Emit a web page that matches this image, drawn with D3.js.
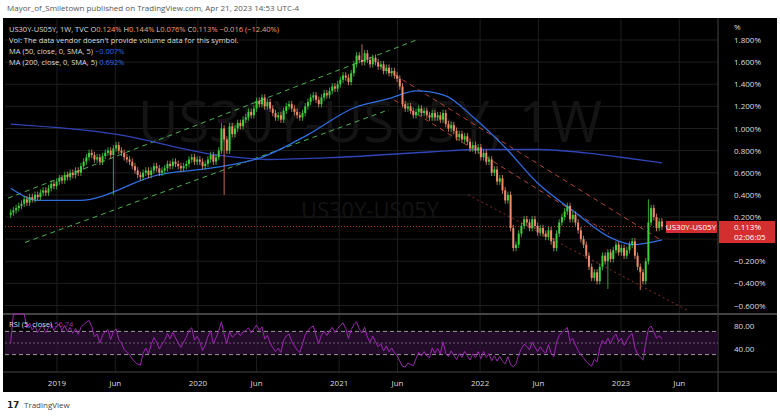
<!DOCTYPE html><html><head><meta charset="utf-8">
<script src="https://cdn.jsdelivr.net/npm/d3@7"></script>
<style>body{margin:0;background:#fff;font-family:"Open Sans",sans-serif}</style></head><body>
<svg id="c" width="780" height="417"></svg>
<script>
const closes=[0.24,0.26,0.28,0.30, 0.32,0.36,0.33,0.38,0.36, 0.40,0.38,0.42,0.44, 0.42,0.46,0.50,0.48,0.52,
0.55,0.53,0.58,0.56, 0.60,0.58,0.62,0.60, 0.66,0.70,0.74,0.78, 0.76,0.72,0.74,0.70,0.75, 0.78,0.80,0.76,0.82, 0.85,0.80,0.78,0.74, 0.72,0.70,0.66,0.62,0.58, 0.56,0.60,0.62,0.58, 0.62,0.66,0.64,0.60,0.62, 0.64,0.68,0.66,0.70, 0.68,0.66,0.64,0.66, 0.68,0.72,0.74,0.70,0.72,
0.70,0.66,0.68,0.72, 0.76,0.70,0.74,0.80, 1.00,0.90,0.80,1.02,0.95, 1.00,1.05,1.02,1.08, 1.10,1.15,1.12,1.18, 1.25,1.22,1.28,1.20,1.24, 1.18,1.14,1.10,1.12, 1.08,1.16,1.20,1.22,1.18, 1.15,1.12,1.10,1.14, 1.20,1.24,1.28,1.30, 1.26,1.22,1.28,1.32,1.30, 1.34,1.38,1.36,1.40,
1.44,1.48,1.46,1.42, 1.50,1.58,1.66,1.62, 1.60,1.68,1.62,1.58,1.64, 1.60,1.56,1.58,1.52, 1.55,1.50,1.52,1.48,1.45, 1.38,1.22,1.18,1.20, 1.16,1.12,1.15,1.18, 1.14,1.16,1.12,1.10,1.14, 1.10,1.12,1.08,1.14, 1.04,1.00,1.03,0.98, 0.92,0.95,0.90,0.93,0.88, 0.82,0.85,0.80,0.83,
0.74,0.78,0.70,0.72,0.60, 0.63,0.52,0.55,0.44, 0.35,0.40,0.10,-0.08, -0.05,0.05,0.12,0.18, 0.15,0.10,0.18,0.12,0.06, 0.10,0.05,0.02,0.08, -0.02,-0.08,0.05,0.15, 0.20,0.25,0.30,0.18,0.22, 0.15,0.08,0.00,-0.05, -0.15,-0.25,-0.35,-0.30,-0.38, -0.25,-0.15,-0.20,-0.12, -0.18,-0.10,-0.05,-0.12,
-0.08,-0.15,-0.10,-0.05,-0.02, -0.15,-0.25,-0.30,-0.38, -0.20,0.15,0.28,0.20, 0.10,0.16,0.113];
const spikes=[{i:38,low:0.40},{i:79,low:0.40},{i:78,high:1.05},{i:130,high:1.76},{i:221,low:-0.45},{i:233,low:-0.46},{i:236,high:0.36}];
const ma200=[["2018-09-03",1.04],["2019-06-01",0.95],["2020-02-20",0.76],["2020-07-01",0.72],["2021-01-01",0.74],["2021-09-01",0.79],["2022-01-01",0.81],["2022-06-01",0.81],["2022-10-01",0.78],["2023-01-01",0.74],["2023-04-17",0.69]];
const ma50=[["2018-09-03",0.46],["2018-11-15",0.35],["2019-03-01",0.35],["2019-09-20",0.58],["2020-02-20",0.65],["2020-06-15",0.74],["2020-10-10",0.94],["2021-02-10",1.19],["2021-05-10",1.27],["2021-07-20",1.34],["2021-10-01",1.30],["2021-12-15",1.10],["2022-03-01",0.85],["2022-06-01",0.5],["2022-09-01",0.25],["2022-12-01",0.02],["2023-02-01",-0.05],["2023-04-17",-0.007]];
const trendLines=[
 {a:["2018-08-27",0.37],b:["2021-07-20",1.80],c:"#4caf50",d:"5,4"},
 {a:["2018-10-10",-0.03],b:["2021-05-10",1.17],c:"#4caf50",d:"5,4"},
 {a:["2021-04-15",1.57],b:["2023-04-15",-0.01],c:"#b5453a",d:"5,4"},
 {a:["2021-05-23",1.26],b:["2022-12-01",0.05],c:"#b5453a",d:"5,4"},
 {a:["2021-12-01",0.40],b:["2023-06-20",-0.64],c:"#8a2f2a",d:"2,3"}];
const yTicks=[1.8,1.6,1.4,1.2,1.0,0.8,0.6,0.4,0.2,-0.2,-0.4,-0.6];
const xTicks=[["2019-01-01","2019"],["2019-06-01","Jun"],["2020-01-01","2020"],["2020-06-01","Jun"],["2021-01-01","2021"],["2021-06-01","Jun"],["2022-01-01","2022"],["2022-06-01","Jun"],["2023-01-01","2023"],["2023-06-01","Jun"]];
const rsiTicks=[80,40];

const P=d3.timeParse("%Y-%m-%d");
const end=P("2023-04-17");
const data=closes.map((c,i)=>{const o=i?closes[i-1]:c-0.02;const s=spikes.filter(k=>k.i===i);
 let h=Math.max(o,c)+0.03,l=Math.min(o,c)-0.03;s.forEach(k=>{if(k.high)h=k.high;if(k.low)l=k.low;});
 return {d:d3.timeWeek.offset(end,i-(closes.length-1)),o,c,h,l};});
const svg=d3.select("#c");
const L=5,R=718,T=19,B=312;
svg.append("rect").attr("x",3).attr("y",18).attr("width",774).attr("height",374).attr("fill","#000");
const x=d3.scaleTime().domain([P("2019-01-01"),P("2023-01-01")]).range([57,621]);
const y=d3.scaleLinear().domain([0.2,1.8]).range([217,40]);
const yr=d3.scaleLinear().domain([0,100]).range([372,314]);
const g=svg.append("g");
xTicks.forEach(t=>{g.append("line").attr("x1",x(P(t[0]))).attr("x2",x(P(t[0]))).attr("y1",T).attr("y2",372).attr("stroke","#1e1e1e");});
yTicks.concat([0]).forEach(v=>g.append("line").attr("x1",L).attr("x2",R).attr("y1",y(v)).attr("y2",y(v)).attr("stroke","#1e1e1e"));
g.append("text").attr("x",370).attr("y",142).attr("text-anchor","middle").attr("font-size",56).attr("fill","#141414").text("US30Y-US05Y, 1W");
g.append("text").attr("x",370).attr("y",218).attr("text-anchor","middle").attr("font-size",22).attr("fill","#141414").text("US30Y-US05Y");
g.append("line").attr("x1",3).attr("x2",777).attr("y1",314).attr("y2",314).attr("stroke","#444").attr("stroke-width",2);
g.append("line").attr("x1",3).attr("x2",777).attr("y1",372).attr("y2",372).attr("stroke","#444");
g.append("line").attr("x1",R).attr("x2",R).attr("y1",18).attr("y2",392).attr("stroke","#444");
g.append("line").attr("x1",L).attr("x2",R).attr("y1",y(0.113)).attr("y2",y(0.113)).attr("stroke","#c0392b").attr("stroke-dasharray","1,2");
trendLines.forEach(t=>g.append("line").attr("x1",x(P(t.a[0]))).attr("y1",y(t.a[1])).attr("x2",x(P(t.b[0]))).attr("y2",y(t.b[1])).attr("stroke",t.c).attr("stroke-dasharray",t.d).attr("stroke-width",1));
const ln=d3.line().curve(d3.curveMonotoneX).x(d=>x(P(d[0]))).y(d=>y(d[1]));
g.append("path").attr("d",ln(ma200)).attr("fill","none").attr("stroke","#2f44b8").attr("stroke-width",1.3);
g.append("path").attr("d",ln(ma50)).attr("fill","none").attr("stroke","#2f6ee0").attr("stroke-width",1.3);
const cg=g.append("g");
data.forEach(d=>{const cx=x(d.d),col=d.c>=d.o?"#3ecf3e":"#f08a6c";
 cg.append("line").attr("x1",cx).attr("x2",cx).attr("y1",y(d.h)).attr("y2",y(d.l)).attr("stroke",col).attr("stroke-width",0.8);
 cg.append("rect").attr("x",cx-1).attr("width",2).attr("y",y(Math.max(d.o,d.c))).attr("height",Math.max(1,Math.abs(y(d.o)-y(d.c)))).attr("fill",col);});
let ag=0,al=0;const rsi=[];
data.forEach((d,i)=>{if(!i){rsi.push(50);return;}const ch=d.c-data[i-1].c;const gn=Math.max(ch,0),ls=Math.max(-ch,0);
 if(i<=5){ag+=gn/5;al+=ls/5;}else{ag=(ag*4+gn)/5;al=(al*4+ls)/5;}rsi.push(al===0?100:100-100/(1+ag/al));});
g.append("rect").attr("x",L).attr("width",R-L).attr("y",yr(70)).attr("height",yr(30)-yr(70)).attr("fill","#2a0f33").attr("opacity",0.8);
[70,50,30].forEach(v=>g.append("line").attr("x1",L).attr("x2",R).attr("y1",yr(v)).attr("y2",yr(v)).attr("stroke","#aaa").attr("stroke-dasharray",v===50?"2,2":"4,3").attr("opacity",v===50?0.5:0.9));
g.append("path").attr("d",d3.line().x((d,i)=>x(data[i].d)).y(d=>yr(d))(rsi)).attr("fill","none").attr("stroke","#9c27b0").attr("stroke-width",1);
const ax=svg.append("g").attr("font-size",8).attr("fill","#ddd");
ax.append("text").attr("x",734).attr("y",30).text("%");
yTicks.forEach(v=>ax.append("text").attr("x",734).attr("y",y(v)+3).text((v<0?"−":"")+Math.abs(v).toFixed(3)+"%"));
rsiTicks.forEach(v=>ax.append("text").attr("x",734).attr("y",yr(v)+3).text(v.toFixed(2)));
xTicks.forEach(t=>ax.append("text").attr("x",x(P(t[0]))).attr("y",386).attr("text-anchor","middle").text(t[1]));
svg.append("rect").attr("x",666).attr("y",221).attr("width",51).attr("height",12).attr("fill","#d32f2f");
svg.append("text").attr("x",691).attr("y",230).attr("text-anchor","middle").attr("font-size",8).attr("fill","#fff").text("US30Y-US05Y");
svg.append("rect").attr("x",719).attr("y",221).attr("width",56).attr("height",22).attr("fill","#d32f2f");
svg.append("text").attr("x",734).attr("y",230).attr("font-size",8).attr("fill","#fff").text("0.113%");
svg.append("text").attr("x",734).attr("y",240).attr("font-size",8).attr("fill","#fff").text("02:06:05");
const lg=svg.append("g").attr("font-size",7.5).attr("fill","#ddd");
const t1=lg.append("text").attr("x",9).attr("y",32);
t1.append("tspan").text("US30Y-US05Y, 1W, TVC  ");
[["O","0.124%"],["H","0.144%"],["L","0.076%"],["C","0.113%"]].forEach(p=>{t1.append("tspan").text(p[0]);t1.append("tspan").attr("fill","#f0a070").text(p[1]+"  ");});
t1.append("tspan").attr("fill","#f0a070").text("−0.016 (−12.40%)");
lg.append("text").attr("x",9).attr("y",43).text("Vol: The data vendor doesn't provide volume data for this symbol.");
const t3=lg.append("text").attr("x",9).attr("y",54);t3.append("tspan").text("MA (50, close, 0, SMA, 5)  ");t3.append("tspan").attr("fill","#2f6ee0").text("−0.007%");
const t4=lg.append("text").attr("x",9).attr("y",65);t4.append("tspan").text("MA (200, close, 0, SMA, 5)  ");t4.append("tspan").attr("fill","#2f6ee0").text("0.692%");
const t5=lg.append("text").attr("x",9).attr("y",327);t5.append("tspan").text("RSI (5, close)  ");t5.append("tspan").attr("fill","#9c27b0").text(rsi[rsi.length-1].toFixed(2));
svg.append("text").attr("x",7).attr("y",11).attr("font-size",8).attr("fill","#555").text("Mayor_of_Smiletown published on TradingView.com, Apr 21, 2023 14:53 UTC-4");
svg.append("text").attr("x",7).attr("y",408).attr("font-size",9).attr("font-weight","bold").attr("fill","#222").text("𝟭𝟳");
svg.append("text").attr("x",24).attr("y",408).attr("font-size",8).attr("fill","#444").text("TradingView");
</script></body></html>
